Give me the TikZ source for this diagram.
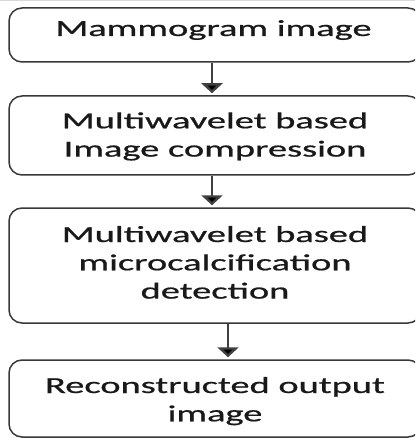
\documentclass[tikz,border=0pt]{standalone}
\usepackage{fontspec}
\usepackage{graphicx}
\setmainfont{Carlito}
\newfontfamily\labelfont{Carlito}[FakeBold=0.6]
\usetikzlibrary{arrows.meta}

% wide, centred multi-line label
\newcommand{\widetext}[1]{\scalebox{1.67}[1]{\begin{tabular}[t]{@{}c@{}}#1\end{tabular}}}

\tikzset{
  stepbox/.style={draw=black!78, line width=1.5pt, rounded corners=13pt,
    inner sep=0pt, minimum width=412pt},
  steptext/.style={inner sep=0pt, anchor=base, text=black!90,
    font=\labelfont\fontsize{23}{28.3}\selectfont},
  flow/.style={draw=black!75, line width=2.4pt, shorten >=2pt,
    -{Triangle[width=21pt,length=10pt,fill=black]}}
}

\begin{document}
\begin{tikzpicture}[x=1pt,y=-1pt]
  \useasboundingbox (0,0) rectangle (415,438);
  \clip (0,0) rectangle (415,438);
  \fill[white] (0,0) rectangle (415,438);
  \draw[black!15, line width=1pt] (0,0.5) -- (415,0.5);

  % process boxes
  \node[stepbox, minimum height=54pt]  (b1) at (215,35)    {};
  \node[stepbox, minimum height=79pt]  (b2) at (215,135.5) {};
  \node[stepbox, minimum height=115pt] (b3) at (215,265.5) {};
  \node[stepbox, minimum height=77pt]  (b4) at (215,398.5) {};

  % labels
  \node[steptext] (t1) at (213.5,36)  {\widetext{Mammogram image}};
  \node[steptext] (t2) at (215,128.3) {\widetext{Multiwavelet based\\Image compression}};
  \node[steptext] (t3) at (215,242)   {\widetext{Multiwavelet based\\microcalcification\\detection}};
  \node[steptext] (t4) at (215,393)   {\widetext{Reconstructed output\\image}};

  % connectors
  \draw[flow] ([xshift=-3pt]b1.south) -- ([xshift=-3pt]b2.north);
  \draw[flow] ([xshift=-3pt]b2.south) -- ([xshift=-3pt]b3.north);
  \draw[flow] ([xshift=13pt]b3.south) -- ([xshift=13pt]b4.north);
\end{tikzpicture}
\end{document}
